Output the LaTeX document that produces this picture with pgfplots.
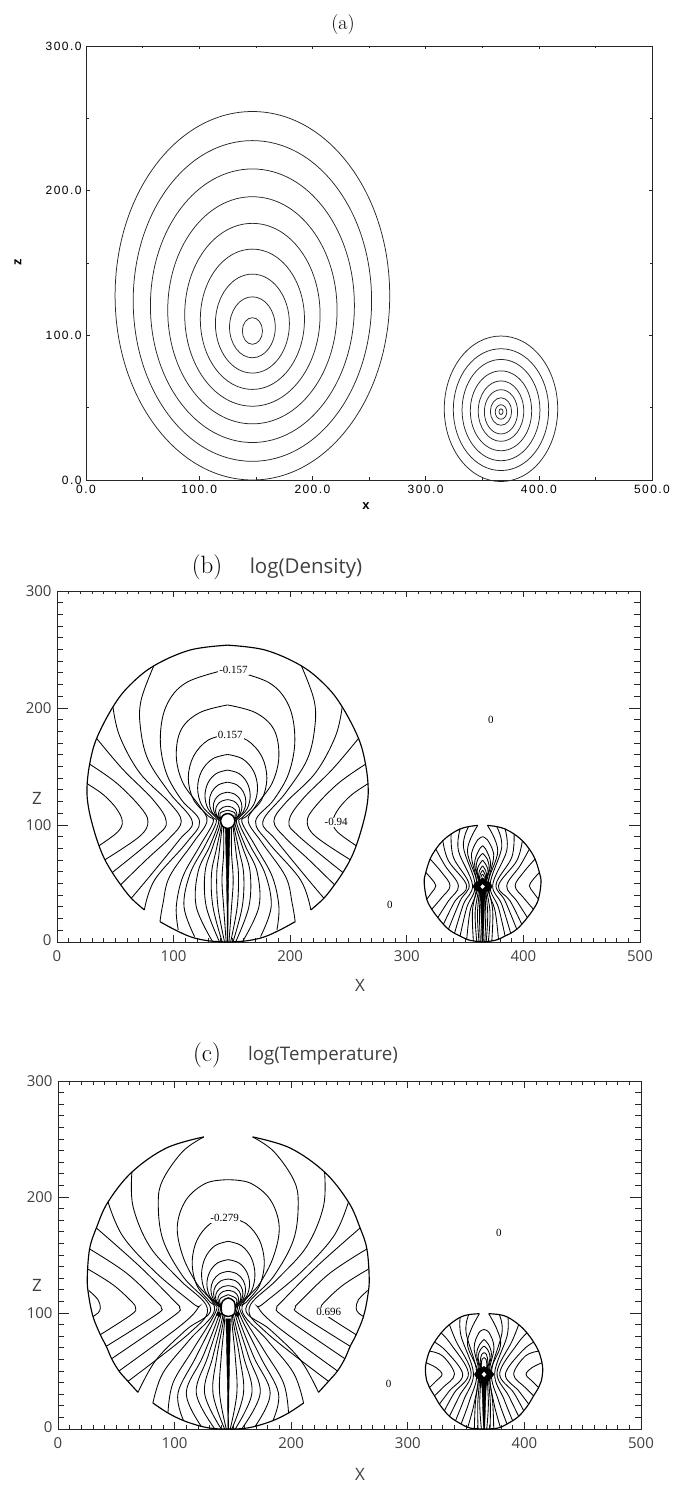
\documentclass[border=0pt]{standalone}
\usepackage{pgfplots}
\pgfplotsset{compat=1.18}
\usepackage{fontspec}
\newfontfamily\thinf{Open Sans}
\newfontfamily\laba[LetterSpace=12]{Liberation Sans}
\newfontfamily\labb{Liberation Sans}
\newfontfamily\serf{Liberation Serif}
\newcommand\fs[1]{\fontsize{#1bp}{#1bp}\selectfont}
\newcommand\E[1]{\addplot[black!85,line width=0.75bp,smooth cycle,tension=0.68] coordinates {#1};}
\newcommand\Es[1]{\addplot[black!85,line width=0.75bp,smooth cycle,tension=0.68,yshift=-2bp] coordinates {#1};}
% one contour and its mirror image about x = c/2
\newcommand\M[2]{\addplot[black,line width=0.85bp,smooth,tension=0.6] coordinates {#2};
 \addplot[black,line width=0.85bp,smooth,tension=0.6,x filter/.expression={#1-x}] coordinates {#2};}
\newcommand\B[2]{\addplot[black,line width=1.15bp,smooth,tension=0.6] coordinates {#2};
 \addplot[black,line width=1.15bp,smooth,tension=0.6,x filter/.expression={#1-x}] coordinates {#2};}
\pgfplotsset{
 lowaxis/.style={scale only axis,xmin=0,xmax=500,ymin=0,ymax=300,clip=false,axis line style={line width=0.9bp,black!85},
   tick align=inside,tick style={black!85,line width=0.8bp},tick pos=both,/pgf/number format/assume math mode=true},
 xpart/.style={xtick={0,100,200,300,400,500},minor x tick num=9,ytick=\empty,major tick length=6.5bp,minor tick length=3.5bp,
   xtick pos=both,xticklabel pos=lower,tick label style={font=\thinf\fs{15},text=black!75},xticklabel style={yshift=-5bp}},
 ypart/.style={ytick={0,100,200,300},yticklabels={\raisebox{4.5bp}{0},100,200,\raisebox{-7bp}{300}},minor y tick num=9,xtick=\empty,major tick length=11bp,minor tick length=6bp,
   ytick pos=both,yticklabel pos=left,tick label style={font=\thinf\fs{15},text=black!75},yticklabel style={xshift=-2bp}},
}
\begin{document}
\begin{tikzpicture}
\path (0bp,0bp) rectangle (683bp,1486bp);
\node[font=\fs{20}] at (343bp,1461bp) {(a)};
\node[font=\fs{25}] at (207bp,1486bp-567bp) {(b)};
\node[font=\thinf\fs{20.5},text=black!75] at (306bp,1486bp-568bp) {log(Density)};
\node[font=\fs{25}] at (207bp,1486bp-1055bp) {(c)};
\node[font=\thinf\fs{18.7},text=black!75] at (323bp,1486bp-1056bp) {log(Temperature)};
%%%%%%%%%%%%%%%% panel a
\begin{axis}[at={(86bp,1006bp)},anchor=south west,width=566bp,height=434bp,scale only axis,
 xmin=0,xmax=500,ymin=0,ymax=300,clip=false,
 xtick={0,100,200,300,400,500},ytick={0,100,200,300},minor x tick num=1,minor y tick num=1,
 xticklabels={0.0,100.0,200.0,300.0,400.0,500.0},yticklabels={0.0,100.0,200.0,300.0},
 tick align=inside,tick pos=both,xticklabel pos=lower,yticklabel pos=left,major tick length=3.5bp,minor tick length=2.5bp,
 axis line style={line width=0.8bp,black!85},tick style={line width=0.6bp,black!85},
 tick label style={font=\laba\fs{12}},xticklabel style={yshift=-2bp},yticklabel style={xshift=-1bp}]
\E{(268.3,127.4)(232.8,217.4)(147,254.7)(61.2,217.4)(25.7,127.4)(61.2,37.4)(147,0)(232.8,37.4)}
\E{(252.3,123.8)(221.5,202.2)(147,234.6)(72.5,202.2)(41.7,123.8)(72.5,45.4)(147,12.9)(221.5,45.4)}
\E{(237.1,120.5)(210.7,187.3)(147,215)(83.3,187.3)(56.9,120.5)(83.3,53.6)(147,25.9)(210.7,53.6)}
\E{(221.8,117.3)(199.9,172.8)(147,195.8)(94.1,172.8)(72.2,117.3)(94.1,61.8)(147,38.8)(199.9,61.8)}
\E{(206.8,114.2)(189.3,158.9)(147,177.4)(104.7,158.9)(87.2,114.2)(104.7,69.5)(147,51)(189.3,69.5)}
\E{(193,111.1)(179.5,145.4)(147,159.6)(114.5,145.4)(101,111.1)(114.5,76.8)(147,62.6)(179.5,76.8)}
\E{(179.7,108.1)(170.1,132.3)(147,142.3)(123.9,132.3)(114.3,108.1)(123.9,83.9)(147,73.9)(170.1,83.9)}
\E{(167.2,105.6)(161.3,120.5)(147,126.6)(132.7,120.5)(126.8,105.6)(132.7,90.7)(147,84.5)(161.3,90.7)}
\E{(155.9,103)(153.3,109.5)(147,112.2)(140.7,109.5)(138.1,103)(140.7,96.5)(147,93.8)(153.3,96.5)}
\Es{(416.7,50.6)(402,86.2)(366.6,100.9)(331.2,86.2)(316.5,50.6)(331.2,15)(366.6,0.3)(402,15)}
\Es{(408.7,50)(396.4,79.8)(366.6,92.1)(336.8,79.8)(324.5,50)(336.8,20.2)(366.6,7.9)(396.4,20.2)}
\Es{(401,49.7)(390.9,74.4)(366.6,84.7)(342.3,74.4)(332.2,49.7)(342.3,25)(366.6,14.7)(390.9,25)}
\Es{(393.7,49.2)(385.8,68.7)(366.6,76.8)(347.4,68.7)(339.5,49.2)(347.4,29.7)(366.6,21.6)(385.8,29.7)}
\Es{(386.7,49)(380.8,63.8)(366.6,69.9)(352.4,63.8)(346.5,49)(352.4,34.2)(366.6,28.1)(380.8,34.2)}
\Es{(381.3,48.5)(377,59.3)(366.6,63.8)(356.2,59.3)(351.9,48.5)(356.2,37.7)(366.6,33.2)(377,37.7)}
\Es{(376,48.7)(373.2,55.4)(366.6,58.2)(360,55.4)(357.2,48.7)(360,42)(366.6,39.2)(373.2,42)}
\Es{(371.7,48.4)(370.2,51.9)(366.6,53.4)(363,51.9)(361.5,48.4)(363,44.9)(366.6,43.4)(370.2,44.9)}
\Es{(368.4,48.6)(367.9,50)(366.6,50.6)(365.3,50)(364.8,48.6)(365.3,47.2)(366.6,46.6)(367.9,47.2)}
\end{axis}
\node[font=\labb\bfseries\fs{13}] at (366bp,1486bp-506bp) {x};
\node[font=\labb\bfseries\fs{13},rotate=90] at (18bp,1486bp-262bp) {z};
%%%%%%%%%%%%%%%% panel b
\begin{axis}[at={(57bp,544bp)},anchor=south west,width=583bp,height=351bp,lowaxis,ypart]
\end{axis}
\begin{axis}[at={(57bp,544bp)},anchor=south west,width=583bp,height=351bp,lowaxis,xpart]
\B{292.6}{(74.9,27.4)(63.7,37.4)(54.6,48.9)(47.4,59.4)(41.1,70.3)(36,82.3)(31,98)(27,115)(25.7,131)(28,152)(34,174)(48,201)(62,219)(83,236)(114,249.5)(146.3,253.7)}
\B{292.6}{(88.3,17.4)(100,11)(114.9,4.3)(130,1)(146.3,0)}
\M{292.6}{(25.7,135.4)(40,125.7)(51,114)(56,103)(52,94)(36,82.3)}
\M{292.6}{(28,152)(50.9,136)(70.9,116)(78,103.1)(70.9,90.3)(41.1,70.3)}
\M{292.6}{(34,174)(56.6,147.4)(82.3,121.7)(93.7,103.1)(85.1,90.3)(47.4,59.4)}
\M{292.6}{(48,201)(53.7,176)(70.9,144.6)(96.6,118.9)(106.6,103.1)(96.6,88.9)(76.6,70.3)(54.6,48.9)}
\M{292.6}{(83,236)(72.3,207.4)(71.4,184.6)(78,156)(96.6,127.4)(116,103.1)(105,87.4)(79.4,56)(63.7,37.4)}
\M{292.6}{(146.3,233.1)(110.9,221.7)(93.7,201.7)(88.6,173)(93.7,144.6)(106.6,121.7)(122.3,103.1)(110.9,84.6)(83.7,53)(74.9,27.4)}
\M{292.6}{(146.3,202.6)(122.3,196)(106.6,181.7)(102.3,158.9)(108,136)(122.3,116)(128.6,103.1)(116.6,84.6)(96.6,56)(90.9,33)(88.3,17.4)}
\M{292.6}{(146.3,177.4)(129.4,172.4)(117.1,158.8)(112.6,140.2)(117.1,121.6)(129.4,108)(134,102.5)(122.3,81.7)(108,56)(102.3,30.3)(104,10.3)}
\M{292.6}{(146.3,160.3)(133.4,156.5)(124,146)(120.6,131.6)(124,117.2)(133.4,106.7)(136.5,102)(126.6,81.7)(114,58)(108.9,30.3)(118,4.6)}
\M{292.6}{(146.3,146.9)(136.6,144)(129.5,136)(126.9,125)(129.5,114)(136.6,106)(138.5,101.5)(130.9,81.7)(121,60)(119.4,30.3)(133.1,0.9)}
\M{292.6}{(146.3,136.6)(138.4,134.3)(132.7,128.2)(130.6,119.8)(132.7,111.4)(138.4,105.3)(139.8,100.5)(133.7,81.7)(127,60)(128,30.3)(139.4,0)}
\M{292.6}{(146.3,128)(140.1,126.3)(135.6,121.8)(134,115.5)(135.6,109.3)(140.1,104.7)(140.8,99)(136.6,78.9)(132.5,58)(133.7,30.3)(141.7,0)}
\M{292.6}{(146.3,121.7)(141.1,120.4)(137.4,117)(136,112.3)(137.4,107.6)(141.1,104.2)(141.5,98.5)(139,76)(137,58)(138,30.3)(143.7,0)}
\M{292.6}{(146.3,116)(142.3,115.1)(139.4,112.8)(138.3,109.5)(139.4,106.2)(142.3,103.9)(142.9,96)(142.9,76)(141.5,53)(142.9,30.3)(145.1,0)}
\M{292.6}{(146.3,112.6)(140.5,110.7)(139.8,108)(140.5,105.3)}
\addplot[fill=black,draw=black,line width=0.4bp] coordinates {(144.4,97)(148.4,97)(147.4,60)(146.8,30)(146.6,0)(146,0)(145.8,30)(145.2,60)} --cycle;
\addplot[fill=white,draw=black,line width=1.5bp,smooth cycle] coordinates {(140.2,103.4)(142.1,108)(146.4,109.8)(150.7,108)(152.6,103.4)(150.7,98.8)(146.4,97)(142.1,98.8)};
\node[fill=white,inner sep=1pt,font=\serf\fs{11}] at (axis cs:151.4,232.6) {-0.157};
\node[fill=white,inner sep=1pt,font=\serf\fs{11}] at (axis cs:148.6,177.4) {0.157};
\node[fill=white,inner sep=1pt,font=\serf\fs{11}] at (axis cs:239.4,102.3) {-0.94};
\node[font=\serf\fs{11}] at (axis cs:285.5,32) {0};
\node[font=\serf\fs{11}] at (axis cs:372,190) {0};
% small star
\B{730}{(360.9,99.7)(352.9,98.6)(345.7,96.6)(338,92.3)(330.9,86.6)(324.9,79.4)(320,70.9)(316.3,59.4)(314.9,50.9)(317.1,36.6)(321.4,28)(326.6,20.9)(331.4,15.1)(335.7,10.9)(340.9,7.4)(345.7,5.1)(351.4,2.3)(357,0.9)(364.9,0)}
\M{730}{(316.3,59.4)(321.4,53.7)(324.9,48)(321.4,42.3)(317.1,36.6)}
\M{730}{(320,70.9)(330,59.4)(337.1,48)(330,38)(321.4,28)}
\M{730}{(324.9,79.4)(332.9,65.1)(344.3,48)(335.7,35.1)(326.6,20.9)}
\M{730}{(330.9,86.6)(335.7,69.4)(351.4,48)(341.4,35.1)(331.4,15.1)}
\M{730}{(338,92.3)(340,72.3)(353.4,49.4)(345.7,35.1)(335.7,10.9)}
\M{730}{(345.7,96.6)(344.3,78)(356.3,48.9)(348.6,32.3)(340.9,7.4)}
\M{730}{(352.9,98.6)(348.6,80.9)(358.6,48.9)(351.4,29.4)(345.7,5.1)}
\M{730}{(360.9,99.7)(352,78)(360.6,48.9)(354.3,26.6)(351.4,2.3)}
\M{730}{(365,90)(361,87.5)(356.5,79)(355.7,70.9)(360,49.4)(356.3,26.6)(357.1,0.9)}
\M{730}{(365,82.3)(361.6,78)(358.1,66.6)(361.7,48.9)(358.6,25.1)(360,0.6)}
\M{730}{(365,75.7)(361,71)(359.4,62.3)(362.3,48.9)(360.6,23.7)(361.9,0.3)}
\M{730}{(365,70)(361.6,65.1)(360.3,59.4)(363,49.4)(362.3,23.7)(363.1,0)}
\M{730}{(365,65.1)(362.3,60.9)(361.7,55.7)(363.1,49.4)}
\M{730}{(365,61.4)(363,58)(362.3,53.7)(363.4,49.4)}
\M{730}{(365,58)(363.6,55.7)(363.9,50.9)}
\addplot[fill=black,draw=black,line width=0.3bp] coordinates {(356.5,47.5)(359,51)(362,52)(365,55)(368,52)(371,51)(373.5,47.5)(371,44)(368,43)(366.8,35)(365.6,0)(364.4,0)(363.2,35)(362,43)(359,44)} --cycle;
\addplot[fill=white,draw=none] coordinates {(363,47.4)(365,49.4)(367,47.4)(365,45.4)} --cycle;
\end{axis}
\node[font=\thinf\fs{17},text=black!75] at (37bp,1486bp-798bp) {Z};
\node[font=\thinf\fs{17},text=black!75] at (360bp,1486bp-985bp) {X};
%%%%%%%%%%%%%%%% panel c
\begin{axis}[at={(58bp,57bp)},anchor=south west,width=583bp,height=348bp,lowaxis,ypart]
\end{axis}
\begin{axis}[at={(58bp,57bp)},anchor=south west,width=583bp,height=348bp,lowaxis,xpart]
\B{292}{(68.6,31.6)(60,41.1)(52.3,50)(46,60.6)(41.4,71.3)(36.3,81.3)(30,97)(26.3,115)(25.1,130)(27.1,155.2)(32.9,173.3)(42.9,195.7)(63.4,221.5)(92.9,242.2)(125.1,251.8)}
\B{292}{(81.4,22.4)(94.3,13.8)(107.7,7.2)(122.9,2.3)(134.3,0.3)(146,0)}
\M{292}{(26.3,119.5)(34.3,111.5)(36.3,104.3)(34.3,100)(30,97)}
\M{292}{(25.1,138.2)(47.1,124.4)(62.9,110)(66.6,104.3)(62.9,98.6)(36.3,81.3)}
\M{292}{(27.1,155.2)(58.6,134.5)(84.3,110)(88.6,104.3)(84.3,98.6)(41.4,71.3)}
\M{292}{(32.9,173.3)(70,140.2)(100,110)(104.3,104.3)(98.6,97)(46,60.6)}
\M{292}{(42.9,195.7)(55.7,166)(84.3,134.5)(116,108)(120,104.3)(104.3,88.5)(52.3,50)}
\M{292}{(63.4,221.5)(64.3,192)(78.6,157.5)(104.3,128.7)(128,104.3)(112.9,82.8)(60,41.1)}
\M{292}{(125.1,251.8)(107.1,239.4)(90,215)(86,194.8)(90,163.2)(107.1,131.6)(131,103.5)(110,85.6)(84.3,59.8)(68.6,31.6)}
\M{292}{(146,214.9)(127.1,212)(110,197.7)(102.3,174.7)(107.1,148.9)(118.6,125.9)(134.3,102.9)(112.9,77)(90,48.3)(81.4,22.4)}
\M{292}{(146,182.5)(130.6,177)(119.2,162.7)(115.1,143.2)(119.2,123.6)(130.6,109.2)(135.7,102)(115.7,68.4)(98.6,39.7)(94.3,13.8)}
\M{292}{(146,161.8)(134.6,158)(126.2,147.5)(123.1,133)(126.2,118.5)(134.6,108)(137.1,101)(118.6,62.6)(102.9,31)(107.7,7.2)}
\M{292}{(146,146)(136.9,143.2)(130.2,135.5)(127.7,125)(130.2,114.5)(136.9,106.8)(138.6,100)(124.3,62.6)(110,31)(122.9,2.3)}
\M{292}{(146,135.9)(138.6,133.8)(133.1,128)(131.1,120)(133.1,112)(138.6,106.2)(140,99)(128.6,62.6)(118.6,31)(134.3,0.3)}
\M{292}{(146,129.3)(139.7,127.7)(135.1,123)(133.4,116.7)(135.1,110.4)(139.7,105.7)(141.4,98)(132.9,62.6)(125.7,31)(140,0)}
\M{292}{(146,123.6)(140.6,122.3)(136.6,118.7)(135.1,113.8)(136.6,108.9)(140.6,105.3)(142.3,96.5)(136.3,62.6)(132.9,31)(142.9,0)}
\M{292}{(146,119.5)(141.6,118.5)(138.3,115.6)(137.1,111.7)(138.3,107.8)(141.6,105)(143,95)(140,62.6)(138.6,31)(144.3,0)}
\M{292}{(146,115.8)(139.6,112.9)(138.6,110)(139.6,107.1)}
\addplot[fill=black,draw=black,line width=0.4bp] coordinates {(144,95)(148,95)(147.2,60)(146.6,30)(146.3,0)(145.7,0)(145.4,30)(144.8,60)} --cycle;
\addplot[fill=black,draw=black] coordinates {(136,99)(138,101)(140,99)(138,96.5)} --cycle;
\addplot[fill=black,draw=black] coordinates {(156,99)(154,101)(152,99)(154,96.5)} --cycle;
\addplot[fill=white,draw=black,line width=1.4bp,smooth cycle] coordinates {(140,104)(141,110)(146,113)(151,110)(152,104)(151,99)(146,97)(141,99)};
\node[fill=white,inner sep=1pt,font=\serf\fs{11}] at (axis cs:142.9,181.8) {-0.279};
\node[fill=white,inner sep=1pt,font=\serf\fs{11}] at (axis cs:232.3,100.6) {0.696};
\node[font=\serf\fs{11}] at (axis cs:283.6,38.8) {0};
\node[font=\serf\fs{11}] at (axis cs:378,169) {0};
% small star
\B{730.8}{(361.4,99.4)(352.3,98.6)(344.9,96.3)(335.7,90)(328.6,82.9)(322.9,74.9)(318.6,67.1)(315.7,57.1)(315.1,50)(316.3,41.4)(318.6,35.7)(322.9,28.6)(327.1,21.4)(331.4,15.7)(335.7,10.9)(340.9,7.1)(345.7,4.3)(351.4,1.4)(357.1,0.3)(365.4,0)}
\M{730.8}{(315.7,57.1)(324.3,52.9)(329.4,47.1)(324.3,41.4)(318.6,35.7)}
\M{730.8}{(318.6,67.1)(330,62.9)(340,47.1)(330,35.7)(322.9,28.6)}
\M{730.8}{(322.9,74.9)(332.9,67.1)(347.1,47.1)(335.7,32.9)(327.1,21.4)}
\M{730.8}{(328.6,82.9)(337.1,72.9)(352,48)(340,31.4)(331.4,15.7)}
\M{730.8}{(335.7,90)(341.4,75.7)(354.3,48.6)(344.3,28.6)(335.7,10.9)}
\M{730.8}{(344.9,96.3)(345.7,80)(356.3,48)(348.3,25.7)(340.9,7.1)}
\M{730.8}{(352.3,98.6)(350,82.9)(359.1,48.6)(352.9,24.3)(345.7,4.3)}
\M{730.8}{(361.4,99.4)(354.3,85.7)(351.4,71.4)(360.3,48)(357.1,22.9)(351.4,1.4)}
\M{730.8}{(365.4,85.7)(361,82.9)(356.9,70)(360.9,48.6)(358,22.9)(357.1,0.3)}
\M{730.8}{(365.4,77.1)(361.6,72.9)(359.1,64.3)(361.7,48.6)(360,21.4)(360.3,0)}
\M{730.8}{(365.4,71.4)(362.4,68.6)(360.3,61.4)(362.6,48.6)(361.7,21.4)(363.1,0)}
\M{730.8}{(365.4,65.7)(363.4,64.3)(362.1,57.7)(363.4,48.6)}
\M{730.8}{(365.4,61.4)(363.7,60)(363,54.9)(363.9,49.1)}
\addplot[fill=black,draw=black,line width=0.3bp] coordinates {(357,47.1)(359.5,50.5)(362.5,52)(365.4,54)(368.3,52)(371.3,50.5)(374,47.1)(371.3,43.5)(368.3,42.5)(367.2,35)(366,0)(364.8,0)(363.6,35)(362.5,42.5)(359.5,43.5)} --cycle;
\addplot[fill=white,draw=none] coordinates {(363.4,47.1)(365.4,49.4)(367.4,47.1)(365.4,44.8)} --cycle;
\end{axis}
\node[font=\thinf\fs{17},text=black!75] at (37bp,1486bp-1285bp) {Z};
\node[font=\thinf\fs{17},text=black!75] at (360bp,1486bp-1474bp) {X};
\end{tikzpicture}
\end{document}
